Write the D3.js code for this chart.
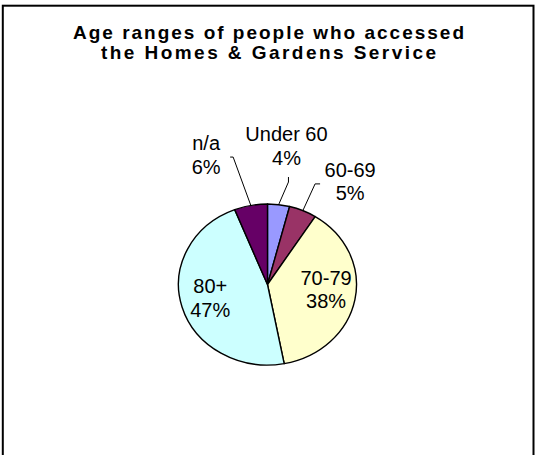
<!DOCTYPE html>
<html>
<head>
<meta charset="utf-8">
<script src="https://cdn.jsdelivr.net/npm/d3@7"></script>
<style>
  body { margin: 0; background: #fff; }
  svg { display: block; }
</style>
</head>
<body>
<script>
const WIDTH = 535;
const HEIGHT = 455;

// data
const categories = ["Under 60", "60-69", "70-79", "80+", "n/a"];
const percents = [4, 5, 38, 47, 6];
const colors = ["#9999FF", "#993366", "#FFFFCC", "#CCFFFF", "#660066"];
const titleLines = ["Age ranges of people who accessed", "the Homes & Gardens Service"];

// pie geometry (excel stretched it a bit sideways)
const CX = 267.5, CY = 284.5;
const RY = 80.5, RX = 89;
const SX = RX / RY;

// label placement: inside labels sit on the centroid, outside ones get nudged
const labelLayout = {
  "Under 60": {outside: true, r: 1.7, dx: 0, dy: -2.7, elbow: [2, 36], end: [2, 31]},
  "60-69":    {outside: true, r: 1.7, dx: 22.5, dy: 23, elbow: [-35, 2], end: [-30, 2]},
  "n/a":      {outside: true, r: 1.7, dx: -33, dy: 5, elbow: [27, 2], end: [24, 2]},
  "70-79":    {outside: false, r: 0.67, dx: 0, dy: -5},
  "80+":      {outside: false, r: 0.67, dx: 0, dy: -1.5}
};

var svg = d3.select("body").append("svg")
  .attr("width", WIDTH)
  .attr("height", HEIGHT);

// chart frame
svg.append("rect")
  .attr("x", 2.8).attr("y", 5.7)
  .attr("width", 530.7).attr("height", 520)
  .attr("fill", "#fff")
  .attr("stroke", "#000")
  .attr("stroke-width", 2);

// title
var title = svg.append("g")
  .attr("font-family", "Liberation Sans, Arial, sans-serif")
  .attr("font-weight", "bold")
  .attr("font-size", 19)
  .attr("fill", "#000");
const titleWidths = [391, 335];
titleLines.forEach(function(t, i) {
  title.append("text")
    .attr("x", 268.5)
    .attr("y", 39 + i * 20)
    .attr("text-anchor", "middle")
    .attr("textLength", titleWidths[i])
    .attr("lengthAdjust", "spacing")
    .text(t);
});

var slices = d3.pie().sort(null).value(function(d) { return d.value; })(
  categories.map(function(c, i) { return {name: c, value: percents[i], color: colors[i]}; })
);

var arc = d3.arc().innerRadius(0).outerRadius(RY);

var pieG = svg.append("g")
  .attr("transform", "translate(" + CX + "," + CY + ") scale(" + SX + ",1)");

pieG.selectAll("path")
  .data(slices)
  .enter().append("path")
  .attr("d", arc)
  .attr("fill", function(d) { return d.data.color; })
  .attr("stroke", "#000")
  .attr("stroke-width", 1.4)
  .attr("stroke-linejoin", "round")
  .attr("vector-effect", "non-scaling-stroke");

// point on the ellipse at a given angle and radius factor
function ellipsePoint(angle, r) {
  return [CX + Math.sin(angle) * RX * r, CY - Math.cos(angle) * RY * r];
}

var labels = svg.append("g")
  .attr("font-family", "Liberation Sans, Arial, sans-serif")
  .attr("font-size", 20)
  .attr("fill", "#000");

slices.forEach(function(d) {
  const lay = labelLayout[d.data.name];
  const mid = (d.startAngle + d.endAngle) / 2;
  const p = ellipsePoint(mid, lay.r);
  const lx = p[0] + lay.dx, ly = p[1] + lay.dy;

  if (lay.outside) {
    const edge = ellipsePoint(mid, 1);
    labels.append("polyline")
      .attr("points", [edge, [lx + lay.elbow[0], ly + lay.elbow[1]], [lx + lay.end[0], ly + lay.end[1]]]
        .map(function(q) { return q.join(","); }).join(" "))
      .attr("fill", "none")
      .attr("stroke", "#000")
      .attr("stroke-width", 1);
  }

  var t = labels.append("text")
    .attr("text-anchor", "middle")
    .attr("transform", "translate(" + lx + "," + ly + ")");
  t.append("tspan").attr("x", 0).attr("y", -5).text(d.data.name);
  t.append("tspan").attr("x", 0).attr("y", 18.5).text(d.data.value + "%");
});
</script>
</body>
</html>
